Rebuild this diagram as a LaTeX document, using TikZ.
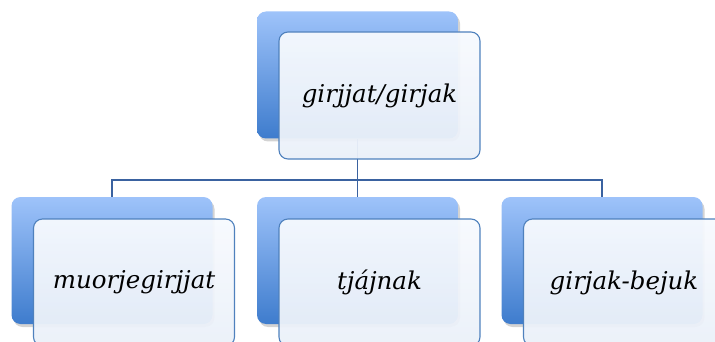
\documentclass[tikz,border=0pt]{standalone}
\usepackage{fontspec}
\setmainfont{DejaVu Serif}
\usetikzlibrary{shadows}

\definecolor{backtop}{RGB}{158,195,250}
\definecolor{backbot}{RGB}{62,124,205}
\definecolor{fronttop}{RGB}{247,250,254}
\definecolor{frontbot}{RGB}{234,240,249}
\definecolor{rim}{RGB}{79,129,189}
\definecolor{linkc}{RGB}{58,98,160}

\tikzset{
  backbox/.style={rounded corners=9pt, top color=backtop, bottom color=backbot,
    minimum width=201pt, minimum height=127pt, inner sep=0pt,
    drop shadow={opacity=0.35, shadow xshift=2pt, shadow yshift=-3pt}},
  frontbox/.style={rounded corners=9pt, draw=rim, line width=1.1pt,
    top color=fronttop, bottom color=frontbot, fill opacity=0.95, text opacity=1,
    minimum width=201pt, minimum height=127pt, inner sep=0pt,
    font=\fontsize{24.5}{28}\selectfont\itshape},
  link/.style={draw=linkc, line width=1.3pt}
}

\begin{document}
\begin{tikzpicture}[x=1pt,y=-1pt]
 \useasboundingbox (0,0) rectangle (715,342);
 \coordinate (hub) at (357.5,180);

 % back boxes
 \node[backbox] (topb) at (357.5,75) {};
 \node[backbox] (leftb) at (112,260.5) {};
 \node[backbox] (midb) at (357.5,260.5) {};
 \node[backbox] (rightb) at (602,260.5) {};

 % connectors
 \draw[link] (topb.south) -- (hub);
 \draw[link] (hub) -| (leftb.north);
 \draw[link] (hub) -- (midb.north);
 \draw[link] (hub) -| (rightb.north);

 % front boxes
 \node[frontbox] (top) at (379.5,95.5) {girjjat/girjak};
 \node[frontbox] (left) at (134,282.5) {muorjegirjjat};
 \node[frontbox] (mid) at (379.5,282.5) {tjájnak};
 \node[frontbox] (right) at (624,282.5) {girjak-bejuk};

\end{tikzpicture}
\end{document}
